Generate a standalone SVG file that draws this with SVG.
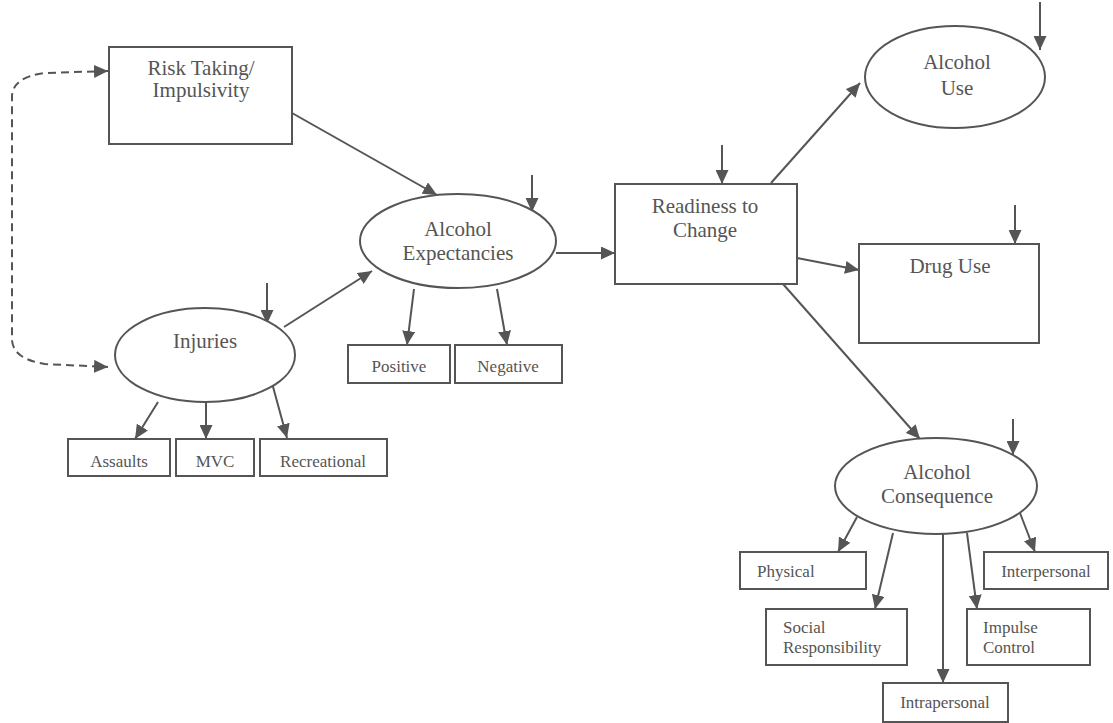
<svg xmlns="http://www.w3.org/2000/svg" width="1113" height="723" viewBox="0 0 1113 723">
  <style>
    .shape { fill: #ffffff; stroke: #555555; stroke-width: 2; }
    .edge { fill: none; stroke: #555555; stroke-width: 2; marker-end: url(#arrow); }
    .dashed { fill: none; stroke: #555555; stroke-width: 2; stroke-dasharray: 8 5; marker-start: url(#arrow); marker-end: url(#arrow); }
    .big { font-family: "Liberation Serif", "Times New Roman", serif; font-size: 21px; fill: #555555; text-anchor: middle; }
    .small { font-family: "Liberation Serif", "Times New Roman", serif; font-size: 17px; fill: #555555; text-anchor: middle; }
    .left { text-anchor: start; }
  </style>
  <defs>
    <marker id="arrow" viewBox="0 0 14 13" refX="14" refY="6.5" markerWidth="14" markerHeight="13" markerUnits="userSpaceOnUse" orient="auto-start-reverse">
      <path d="M0,0 L14,6.5 L0,13 z" fill="#555555"/>
    </marker>
  </defs>

  <rect width="1113" height="723" fill="#ffffff"/>

  <!-- connectors -->
  <g id="connectors">
    <!-- correlation between risk taking and injuries -->
    <path class="dashed" d="M108,71 L45,73 Q13,77 12,96 L12,340 Q13,359 45,364 L108,367"/>
    <!-- predictors of expectancies -->
    <line class="edge" x1="292" y1="113" x2="437" y2="195"/>
    <line class="edge" x1="284" y1="327" x2="372" y2="271"/>
    <!-- error terms -->
    <line class="edge" x1="267" y1="283" x2="267" y2="324"/>
    <line class="edge" x1="532" y1="175" x2="532" y2="212"/>
    <line class="edge" x1="722" y1="145" x2="722" y2="184"/>
    <line class="edge" x1="1040" y1="2" x2="1040" y2="50"/>
    <line class="edge" x1="1015" y1="205" x2="1015" y2="244"/>
    <line class="edge" x1="1013" y1="419" x2="1013" y2="455"/>
    <!-- injury indicators -->
    <line class="edge" x1="158" y1="402" x2="135" y2="439"/>
    <line class="edge" x1="206" y1="402" x2="206" y2="439"/>
    <line class="edge" x1="272" y1="383" x2="287" y2="438"/>
    <!-- expectancy indicators -->
    <line class="edge" x1="414" y1="289" x2="407" y2="345"/>
    <line class="edge" x1="497" y1="289" x2="507" y2="345"/>
    <!-- expectancies to readiness -->
    <line class="edge" x1="556" y1="253" x2="615" y2="253"/>
    <!-- readiness to outcomes -->
    <line class="edge" x1="771" y1="183" x2="860" y2="83"/>
    <line class="edge" x1="797" y1="258" x2="859" y2="270"/>
    <line class="edge" x1="783" y1="284" x2="920" y2="439"/>
    <!-- consequence indicators -->
    <line class="edge" x1="857" y1="517" x2="838" y2="552"/>
    <line class="edge" x1="893" y1="533" x2="875" y2="609"/>
    <line class="edge" x1="943" y1="534" x2="943" y2="683"/>
    <line class="edge" x1="967" y1="533" x2="977" y2="609"/>
    <line class="edge" x1="1020" y1="513" x2="1035" y2="552"/>
  </g>

  <!-- latent and observed variables -->
  <g id="risk-taking">
    <rect class="shape" x="109" y="47" width="183" height="97"/>
    <text class="big" x="201" y="75">Risk Taking/</text>
    <text class="big" x="201" y="97">Impulsivity</text>
  </g>

  <g id="injuries">
    <ellipse class="shape" cx="205" cy="355" rx="90" ry="47"/>
    <text class="big" x="205" y="348">Injuries</text>
  </g>

  <g id="assaults">
    <rect class="shape" x="68" y="439" width="102" height="37"/>
    <text class="small" x="119" y="467">Assaults</text>
  </g>
  <g id="mvc">
    <rect class="shape" x="176" y="439" width="78" height="37"/>
    <text class="small" x="215" y="467">MVC</text>
  </g>
  <g id="recreational">
    <rect class="shape" x="260" y="439" width="127" height="37"/>
    <text class="small" x="323" y="467">Recreational</text>
  </g>

  <g id="alcohol-expectancies">
    <ellipse class="shape" cx="458" cy="241" rx="98" ry="47"/>
    <text class="big" x="458" y="236">Alcohol</text>
    <text class="big" x="458" y="260">Expectancies</text>
  </g>

  <g id="positive">
    <rect class="shape" x="348" y="345" width="102" height="38"/>
    <text class="small" x="399" y="372">Positive</text>
  </g>
  <g id="negative">
    <rect class="shape" x="455" y="345" width="107" height="38"/>
    <text class="small" x="508" y="372">Negative</text>
  </g>

  <g id="readiness">
    <rect class="shape" x="615" y="184" width="182" height="100"/>
    <text class="big" x="705" y="213">Readiness to</text>
    <text class="big" x="705" y="237">Change</text>
  </g>

  <g id="alcohol-use">
    <ellipse class="shape" cx="955" cy="77" rx="90" ry="51"/>
    <text class="big" x="957" y="69">Alcohol</text>
    <text class="big" x="957" y="95">Use</text>
  </g>

  <g id="drug-use">
    <rect class="shape" x="859" y="244" width="180" height="99"/>
    <text class="big" x="950" y="273">Drug Use</text>
  </g>

  <g id="alcohol-consequence">
    <ellipse class="shape" cx="936" cy="486" rx="101" ry="48"/>
    <text class="big" x="937" y="479">Alcohol</text>
    <text class="big" x="937" y="503">Consequence</text>
  </g>

  <g id="physical">
    <rect class="shape" x="740" y="552" width="126" height="37"/>
    <text class="small left" x="757" y="577">Physical</text>
  </g>
  <g id="interpersonal">
    <rect class="shape" x="984" y="552" width="124" height="37"/>
    <text class="small" x="1046" y="577">Interpersonal</text>
  </g>
  <g id="social-responsibility">
    <rect class="shape" x="766" y="609" width="141" height="56"/>
    <text class="small left" x="783" y="633">Social</text>
    <text class="small left" x="783" y="653">Responsibility</text>
  </g>
  <g id="impulse-control">
    <rect class="shape" x="967" y="609" width="123" height="56"/>
    <text class="small left" x="983" y="633">Impulse</text>
    <text class="small left" x="983" y="653">Control</text>
  </g>
  <g id="intrapersonal">
    <rect class="shape" x="883" y="683" width="125" height="39"/>
    <text class="small" x="945" y="708">Intrapersonal</text>
  </g>
</svg>
